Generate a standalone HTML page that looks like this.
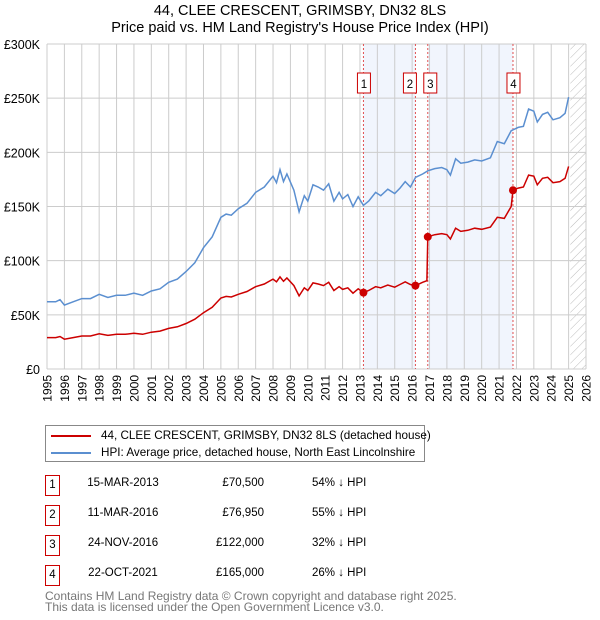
<!DOCTYPE html>
<html><head><meta charset="utf-8"><style>
body{margin:0;background:#fff;font-family:"Liberation Sans","DejaVu Sans",sans-serif;}
#wrap{position:relative;width:600px;height:620px;overflow:hidden}
.t{position:absolute;font-size:13px;color:#000;white-space:nowrap}
</style></head><body><div id="wrap">
<div class="t" style="left:0;width:600px;text-align:center;top:3px;font-size:14.5px">44, CLEE CRESCENT, GRIMSBY, DN32 8LS</div>
<div class="t" style="left:0;width:600px;text-align:center;top:20px;font-size:14.5px">Price paid vs. HM Land Registry's House Price Index (HPI)</div>
<svg id="c" width="600" height="420" style="position:absolute;left:0;top:0"></svg>
<div style="position:absolute;left:45px;top:425px;width:378px;height:35px;border:1px solid #888;font-size:11.7px;white-space:nowrap">
<div style="position:absolute;left:5px;top:3px"><span style="display:inline-block;width:40px;height:2px;background:#c00;vertical-align:middle;margin-right:10px"></span>44, CLEE CRESCENT, GRIMSBY, DN32 8LS (detached house)</div>
<div style="position:absolute;left:5px;top:20px"><span style="display:inline-block;width:40px;height:2px;background:#5b8fd0;vertical-align:middle;margin-right:10px"></span>HPI: Average price, detached house, North East Lincolnshire</div>
</div>
<div id="tbl"></div>
<div class="t" style="left:45px;top:589px;font-size:12px;color:#777">Contains HM Land Registry data © Crown copyright and database right 2025.</div>
<div class="t" style="left:45px;top:600px;font-size:12px;color:#777">This data is licensed under the Open Government Licence v3.0.</div>
</div>
<script>
const hpiYears=[1995,1995.5,1995.75,1996,1996.5,1997,1997.5,1998,1998.5,1999,1999.5,2000,2000.5,2001,2001.5,2002,2002.5,2003,2003.5,2004,2004.5,2005,2005.3,2005.6,2006,2006.5,2007,2007.5,2008,2008.2,2008.4,2008.6,2008.8,2009.2,2009.5,2009.8,2010,2010.3,2010.6,2010.9,2011.2,2011.5,2011.8,2012,2012.3,2012.6,2012.9,2013.2,2013.5,2013.9,2014.2,2014.6,2015,2015.3,2015.6,2015.9,2016.2,2016.6,2016.9,2017.3,2017.7,2018,2018.2,2018.5,2018.8,2019.2,2019.6,2020,2020.5,2020.9,2021.3,2021.7,2022.1,2022.4,2022.7,2023,2023.2,2023.5,2023.8,2024.1,2024.5,2024.8,2025];
const hpiValues=[62,62,64,59,62,65,65,69,66,68,68,70,68,72,74,80,83,90,98,112,122,140,143,142,148,153,163,168,178,172,184,173,180,165,145,160,155,170,168,165,171,155,163,157,161,150,159,151,155,163,160,166,162,167,173,168,177,180,183,185,186,184,179,194,190,191,193,192,195,210,208,220,223,224,240,238,228,235,237,230,232,236,251];
const propYears=[1995,1995.5,1995.75,1996,1996.5,1997,1997.5,1998,1998.5,1999,1999.5,2000,2000.5,2001,2001.5,2002,2002.5,2003,2003.5,2004,2004.5,2005,2005.3,2005.6,2006,2006.5,2007,2007.5,2008,2008.2,2008.4,2008.6,2008.8,2009.2,2009.5,2009.8,2010,2010.3,2010.6,2010.9,2011.2,2011.5,2011.8,2012,2012.3,2012.6,2012.9,2013.2,2013.5,2013.9,2014.2,2014.6,2015,2015.3,2015.6,2015.9,2016.2,2016.6,2016.85,2016.9,2017.3,2017.7,2018,2018.2,2018.5,2018.8,2019.2,2019.6,2020,2020.5,2020.9,2021.3,2021.7,2021.8,2022.1,2022.4,2022.7,2023,2023.2,2023.5,2023.8,2024.1,2024.5,2024.8,2025];
const propValues=[29,29,30,27.5,29,30.5,30.5,32.5,31,32,32,33,32,34,35,37.5,39,42,46,52,57,65.5,67,66.5,69,71.5,76,78.5,83,80.5,85,81,84,77,67.5,75,72.5,79.5,78.5,77,80,72.5,76,73.5,75,70,74,70.5,72.5,76,75,77.5,75.5,78,80.5,78,77,80,81.5,122,124,125,124,120,130,127,128,130,129,131,140,139,150,165,167,168,179,178,170,176,177,172,173,176,187];
const saleLabels=["1","2","3","4"];
const saleDates=[2013.2,2016.19,2016.9,2021.8];
const saleDateText=["15-MAR-2013","11-MAR-2016","24-NOV-2016","22-OCT-2021"];
const salePrices=[70.5,76.95,122,165];
const salePriceText=["£70,500","£76,950","£122,000","£165,000"];
const salePct=["54% ↓ HPI","55% ↓ HPI","32% ↓ HPI","26% ↓ HPI"];
const yTicks=[0,50,100,150,200,250,300];
const yTickLabels=["£0","£50K","£100K","£150K","£200K","£250K","£300K"];

const L=47,R=586,T=44,B=369,X0=1995,X1=2026;
const x=v=>L+(v-X0)/(X1-X0)*(R-L);
const y=v=>B-v/300*(B-T);
const svg=document.getElementById('c');const NS='http://www.w3.org/2000/svg';
function mk(t,a,p){const e=document.createElementNS(NS,t);for(const k in a)e.setAttribute(k,a[k]);(p||svg).appendChild(e);return e;}
let s=mk('rect',{x:x(saleDates[0]),y:T,width:x(saleDates[1])-x(saleDates[0]),height:B-T,fill:'#eef3fc',opacity:0.8});

s=mk('rect',{x:x(saleDates[2]),y:T,width:x(saleDates[3])-x(saleDates[2]),height:B-T,fill:'#eef3fc',opacity:0.8});

const defs=mk('defs',{});const pat=mk('pattern',{id:'h',width:6,height:6,patternUnits:'userSpaceOnUse',patternTransform:'rotate(45)'},defs);
mk('line',{x1:0,y1:0,x2:0,y2:6,stroke:'#bbb','stroke-width':1},pat);
s=mk('rect',{x:x(2025.1),y:T,width:R-x(2025.1),height:B-T,fill:'url(#h)'});

for(let yr=1995;yr<=2026;yr++){
 const g=mk('line',{x1:x(yr),x2:x(yr),y1:T,y2:B,stroke:'#ccc','stroke-width':1});
 
 const t=mk('text',{x:0,y:0,'text-anchor':'end','font-size':12,'font-family':'Liberation Sans, DejaVu Sans, sans-serif',transform:`translate(${(x(yr)+4.5).toFixed(1)},375) rotate(-90)`});t.textContent=yr;
 
}
yTicks.forEach((v,i)=>{
 const g=mk('line',{x1:L,x2:R,y1:y(v),y2:y(v),stroke:'#ccc','stroke-width':1});
 
 const t=mk('text',{x:L-7,y:y(v)+5,'text-anchor':'end','font-size':12.5,'font-family':'Liberation Sans, DejaVu Sans, sans-serif'});t.textContent=yTickLabels[i];
 
});
saleDates.forEach((d,i)=>{
 const l=mk('line',{x1:x(d),x2:x(d),y1:T,y2:B,stroke:'#e05050','stroke-width':1,'stroke-dasharray':'2,2'});
 
});
function path(xs,vs,c,n){const p=mk('path',{d:xs.map((v,i)=>(i?'L':'M')+x(v).toFixed(1)+','+y(vs[i]).toFixed(1)).join(''),fill:'none',stroke:c,'stroke-width':1.5});
 }
path(hpiYears,hpiValues,'#5b8fd0','hpi-line');
path(propYears,propValues,'#cc0000','property-price-line');
saleDates.forEach((d,i)=>{
 const c=mk('circle',{cx:x(d),cy:y(salePrices[i]),r:4,fill:'#cc0000'});
 
 const bx=(i==1)?x(d)-12:(i==2?x(d)-4:x(d)-6);
 const r=mk('rect',{x:bx,y:73,width:13,height:20,fill:'#fff',stroke:'#cc0000','stroke-width':1});
 
 const t=mk('text',{x:bx+6.5,y:88,'text-anchor':'middle','font-size':11.5,'font-family':'Liberation Sans, DejaVu Sans, sans-serif'});t.textContent=saleLabels[i];
 
});
const tbl=document.getElementById('tbl');
saleLabels.forEach((lab,i)=>{
 const top=475+i*30;
 const row=document.createElement('div');
 
 row.innerHTML=`<div style="position:absolute;left:45px;top:${top}px;width:13px;height:19px;border:1px solid #c00;font-size:11.5px;text-align:center;line-height:19px">${lab}</div>
<div class="t" style="left:70px;width:106px;text-align:center;top:${top+2}px;font-size:11.5px">${saleDateText[i]}</div>
<div class="t" style="left:180px;width:84px;text-align:right;top:${top+2}px;font-size:11.5px">${salePriceText[i]}</div>
<div class="t" style="left:312px;top:${top+2}px;font-size:11.5px">${salePct[i]}</div>`;
 tbl.appendChild(row);
});
</script></body></html>
